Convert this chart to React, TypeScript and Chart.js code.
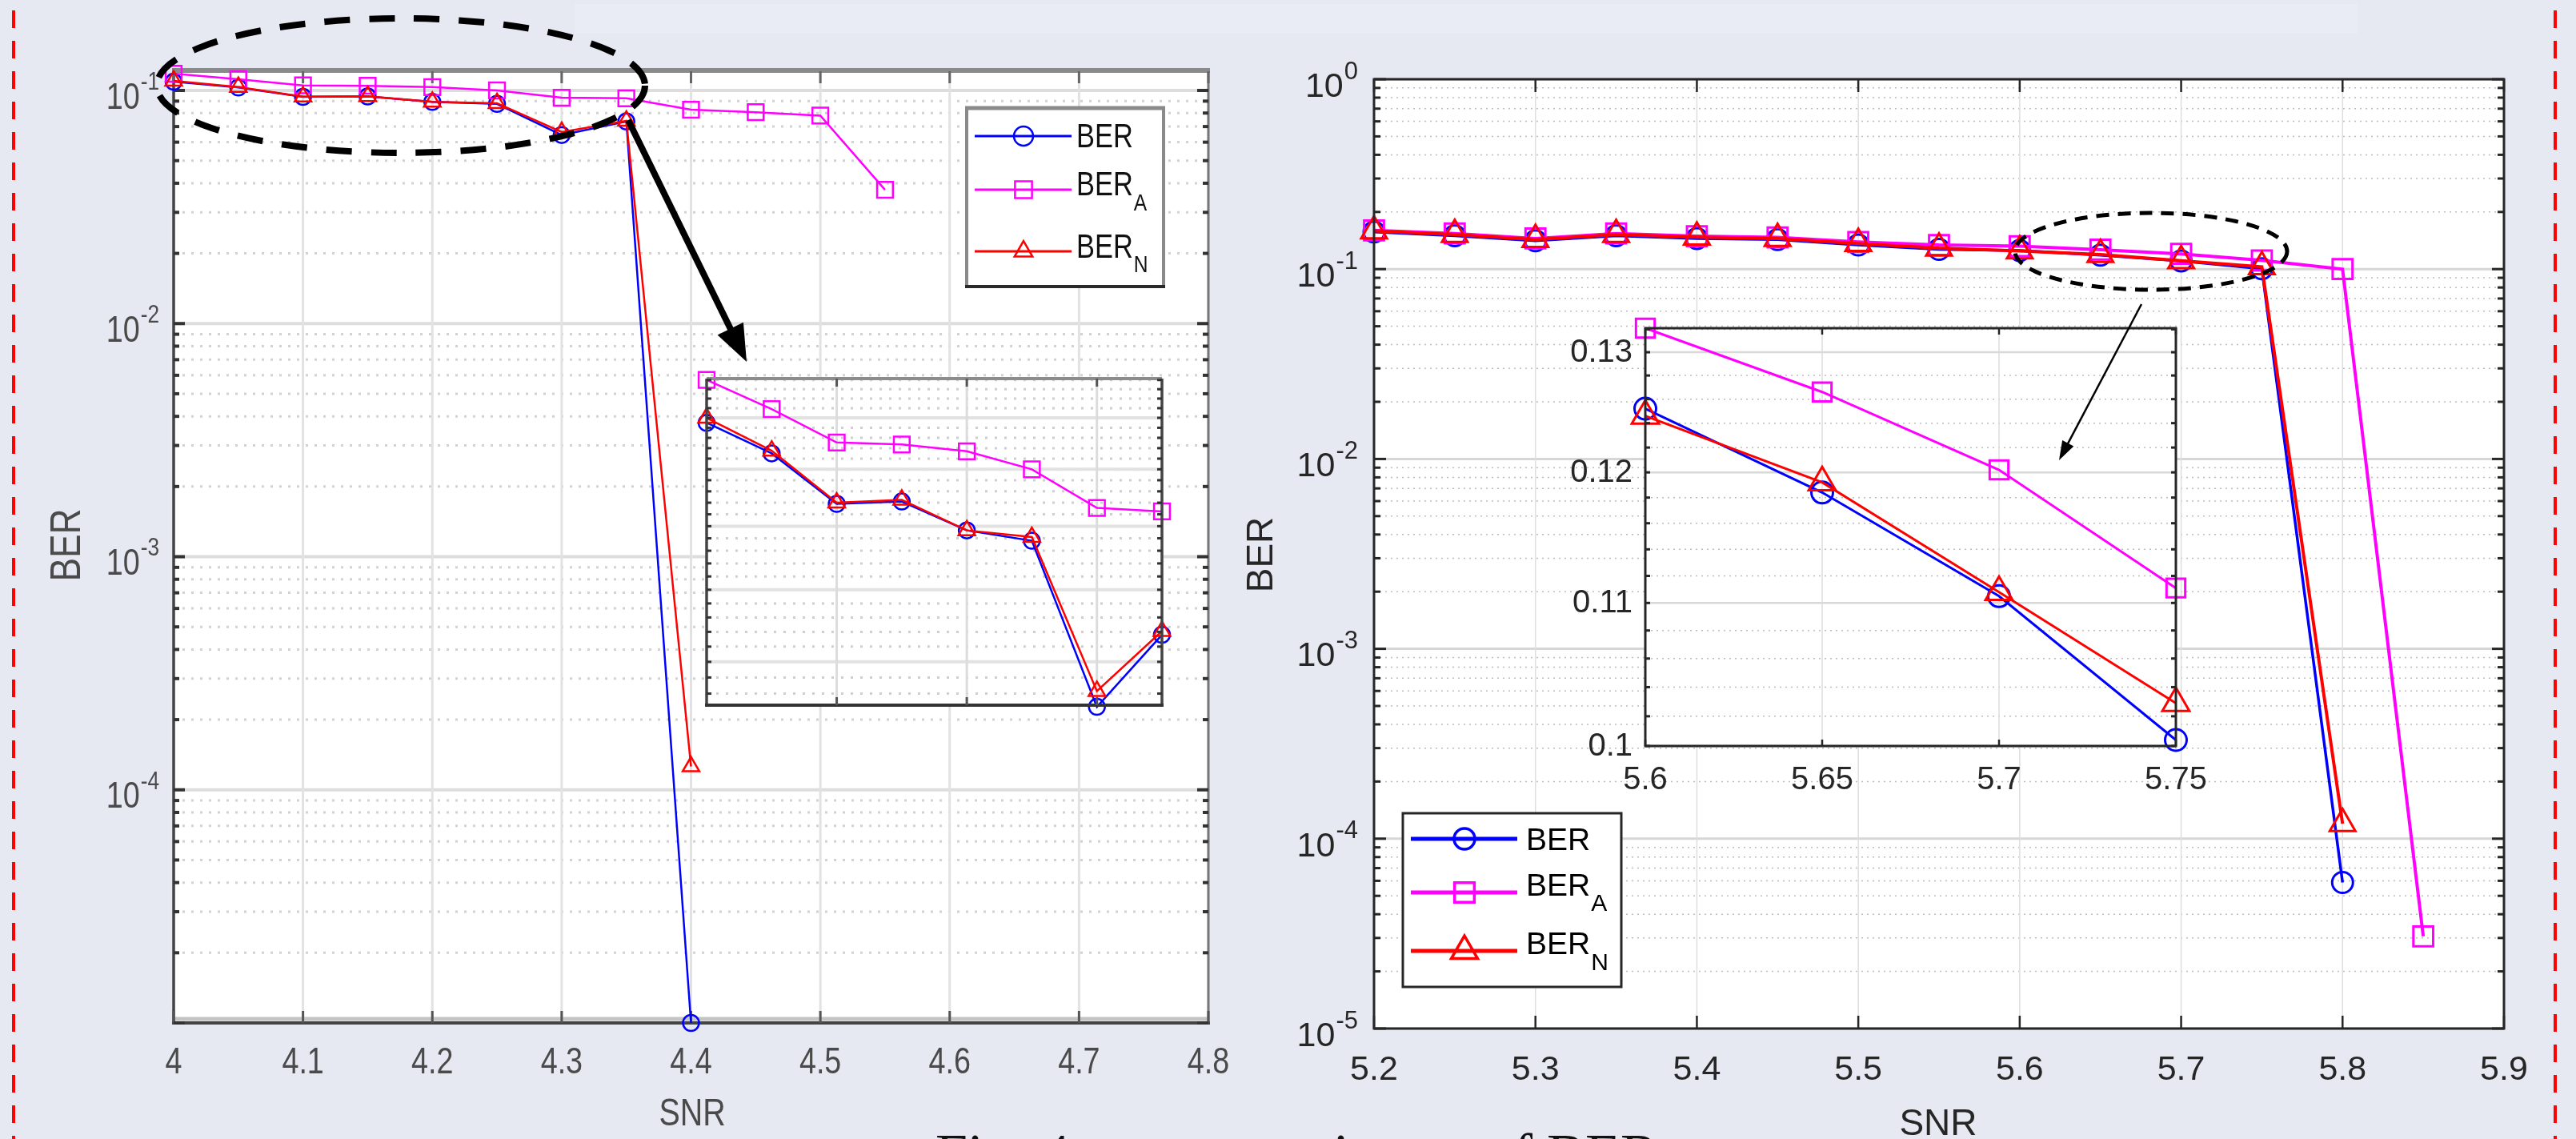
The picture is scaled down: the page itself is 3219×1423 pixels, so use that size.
import React, { useEffect, useRef } from "react";
import { Chart, registerables } from "chart.js";

Chart.register(...registerables);

const PAGE_W = 3219;
const PAGE_H = 1423;
const BG = "#e6e9f2";
const SANS = '"Liberation Sans", Arial, Helvetica, sans-serif';
const SERIF = '"Liberation Serif", "Times New Roman", serif';
const NARROW = 0.82;

const BLUE = "#0000ff";
const MAGENTA = "#ff00ff";
const RED = "#ff0000";

// ---------------- left figure data ----------------
const snrLeft = [4.0, 4.05, 4.1, 4.15, 4.2, 4.25, 4.3, 4.35, 4.4, 4.45, 4.5, 4.55];
const berLeft = [0.109, 0.103, 0.0938, 0.0942, 0.0893, 0.0876, 0.0644, 0.0736, 1.0e-5];
const berALeft = [0.118, 0.1118, 0.1051, 0.1047, 0.1034, 0.1, 0.0931, 0.0925, 0.0827, 0.0807, 0.078, 0.0375];
const berNLeft = [0.11, 0.1035, 0.094, 0.0945, 0.0893, 0.0882, 0.0663, 0.0741, 1.26e-4];

// ---------------- right figure data ----------------
const snrRight = [5.2, 5.25, 5.3, 5.35, 5.4, 5.45, 5.5, 5.55, 5.6, 5.65, 5.7, 5.75, 5.8, 5.85];
const berRight = [0.157, 0.15, 0.141, 0.15, 0.145, 0.143, 0.134, 0.127, 0.1252, 0.1184, 0.1105, 0.1004, 5.88e-5];
const berARight = [0.16, 0.154, 0.145, 0.154, 0.149, 0.147, 0.139, 0.134, 0.1321, 0.1266, 0.1202, 0.1111, 0.1, 3.06e-5];
const berNRight = [0.159, 0.152, 0.143, 0.152, 0.1475, 0.145, 0.1365, 0.129, 0.1246, 0.1192, 0.1108, 0.1029, 1.2e-4];

// ---------------- ticks / labels ----------------
const leftXTicks = [4, 4.1, 4.2, 4.3, 4.4, 4.5, 4.6, 4.7, 4.8];
const leftXLabels = ["4", "4.1", "4.2", "4.3", "4.4", "4.5", "4.6", "4.7", "4.8"];
const leftYExps = [-1, -2, -3, -4, -5];
const leftYLabelExps = [-1, -2, -3, -4];
const leftInsetXTicks = [4.1, 4.2, 4.3];
const leftInsetYMajor = [0.07, 0.08, 0.09, 0.1, 0.11];

const rightXTicks = [5.2, 5.3, 5.4, 5.5, 5.6, 5.7, 5.8, 5.9];
const rightXLabels = ["5.2", "5.3", "5.4", "5.5", "5.6", "5.7", "5.8", "5.9"];
const rightYExps = [0, -1, -2, -3, -4, -5];
const rightInsetXTicks = [5.6, 5.65, 5.7, 5.75];
const rightInsetXLabels = ["5.6", "5.65", "5.7", "5.75"];
const rightInsetYMajor = [0.1, 0.11, 0.12, 0.13];
const rightInsetYLabels = ["0.1", "0.11", "0.12", "0.13"];

const legendNames = ["BER", "BER", "BER"];
const legendSubs = ["", "A", "N"];

const xLabel = "SNR";
const yLabel = "BER";
const captionA = "Fig. 4";
const captionB = "comparisons";
const captionC = "of BER";

// ---------------- helpers ----------------
function decadeMinors(eMin: number, eMax: number, vMax: number) {
  const out: number[] = [];
  for (let e = eMin; e < eMax; e++) {
    for (let k = 2; k <= 9; k++) {
      const v = k * Math.pow(10, e);
      if (v < vMax) out.push(v);
    }
  }
  return out;
}
function stepMinors(min: number, max: number, step: number) {
  const out: number[] = [];
  for (let i = Math.ceil(min / step); i * step <= max + 1e-9; i++) out.push(+(i * step).toFixed(4));
  return out;
}

type Ctx = CanvasRenderingContext2D;

function hLine(ctx: Ctx, x1: number, x2: number, y: number, color: string, w: number, dash: number[] = []) {
  ctx.save();
  ctx.strokeStyle = color;
  ctx.lineWidth = w;
  ctx.setLineDash(dash);
  ctx.beginPath();
  ctx.moveTo(x1, y);
  ctx.lineTo(x2, y);
  ctx.stroke();
  ctx.restore();
}
function vLine(ctx: Ctx, x: number, y1: number, y2: number, color: string, w: number, dash: number[] = []) {
  ctx.save();
  ctx.strokeStyle = color;
  ctx.lineWidth = w;
  ctx.setLineDash(dash);
  ctx.beginPath();
  ctx.moveTo(x, y1);
  ctx.lineTo(x, y2);
  ctx.stroke();
  ctx.restore();
}
function txt(
  ctx: Ctx,
  s: string,
  x: number,
  y: number,
  size: number,
  color: string,
  align: CanvasTextAlign,
  sx = 1,
  rot = 0
) {
  ctx.save();
  ctx.translate(x, y);
  if (rot) ctx.rotate(rot);
  ctx.scale(sx, 1);
  ctx.font = `${size}px ${SANS}`;
  ctx.fillStyle = color;
  ctx.textAlign = align;
  ctx.textBaseline = "middle";
  ctx.fillText(s, 0, 0);
  ctx.restore();
}
function measure(ctx: Ctx, s: string, size: number, sx = 1) {
  ctx.save();
  ctx.font = `${size}px ${SANS}`;
  const w = ctx.measureText(s).width * sx;
  ctx.restore();
  return w;
}
function powLabel(
  ctx: Ctx,
  exp: number,
  xr: number,
  y: number,
  o: { base: number; sup: number; color: string; sx: number; dyB: number; dyS: number }
) {
  const es = String(exp);
  const we = measure(ctx, es, o.sup, o.sx);
  txt(ctx, "10", xr - we - 1, y + o.dyB, o.base, o.color, "right", o.sx);
  txt(ctx, es, xr - we, y + o.dyS, o.sup, o.color, "left", o.sx);
}
function marker(ctx: Ctx, style: string, x: number, y: number, r: number, color: string, lw: number) {
  ctx.save();
  ctx.strokeStyle = color;
  ctx.lineWidth = lw;
  ctx.beginPath();
  if (style === "circle") {
    ctx.arc(x, y, r, 0, Math.PI * 2);
  } else if (style === "rect") {
    const s = r * Math.SQRT1_2;
    ctx.rect(x - s, y - s, 2 * s, 2 * s);
  } else {
    ctx.moveTo(x, y - r);
    ctx.lineTo(x + r * 0.866, y + r * 0.5);
    ctx.lineTo(x - r * 0.866, y + r * 0.5);
    ctx.closePath();
  }
  ctx.stroke();
  ctx.restore();
}

type LegendOpts = {
  box: [number, number, number, number];
  lineX: [number, number];
  markX: number;
  textX: number;
  rows: number[];
  textY: number[];
  subY: number[];
  size: number;
  subSize: number;
  sx: number;
  lw: number;
  pw: number;
  radii: number[];
  color: string;
  border: (ctx: Ctx) => void;
};
const legendColors = [BLUE, MAGENTA, RED];
const legendStyles = ["circle", "rect", "triangle"];

function drawLegend(ctx: Ctx, o: LegendOpts) {
  const [l, t, r, b] = o.box;
  ctx.save();
  ctx.fillStyle = "#ffffff";
  ctx.fillRect(l, t, r - l, b - t);
  ctx.restore();
  o.border(ctx);
  for (let i = 0; i < 3; i++) {
    const y = o.rows[i];
    hLine(ctx, o.lineX[0], o.lineX[1], y, legendColors[i], o.lw);
    marker(ctx, legendStyles[i], o.markX, y, o.radii[i], legendColors[i], o.pw);
    txt(ctx, legendNames[i], o.textX, o.textY[i], o.size, o.color, "left", o.sx);
    if (legendSubs[i]) {
      const w = measure(ctx, legendNames[i], o.size, o.sx);
      txt(ctx, legendSubs[i], o.textX + w + 1, o.subY[i], o.subSize, o.color, "left", o.sx);
    }
  }
}

function ds(
  xs: number[],
  ys: number[],
  color: string,
  style: string,
  radius: number,
  lw: number,
  pw: number,
  order: number
) {
  return {
    data: ys.map((y, i) => ({ x: xs[i], y })),
    borderColor: color,
    backgroundColor: "rgba(0,0,0,0)",
    pointBackgroundColor: "rgba(0,0,0,0)",
    pointBorderColor: color,
    pointStyle: style,
    pointRadius: radius,
    pointBorderWidth: pw,
    borderWidth: lw,
    tension: 0,
    fill: false,
    clip: false,
    order,
  };
}

type Area = { l: number; t: number; r: number; b: number };
type Layer = {
  area: Area;
  x: [number, number];
  y: [number, number];
  datasets: any[];
  before?: (ctx: Ctx, ch: any) => void;
  after?: (ctx: Ctx, ch: any) => void;
};

function ChartLayer({ layer }: { layer: Layer }) {
  const ref = useRef<HTMLCanvasElement>(null);
  useEffect(() => {
    const c = ref.current;
    if (!c) return;
    const a = layer.area;
    const chart = new Chart(c, {
      type: "line",
      data: { datasets: layer.datasets },
      options: {
        responsive: false,
        maintainAspectRatio: false,
        animation: false,
        events: [],
        layout: { padding: { left: a.l, top: a.t, right: PAGE_W - a.r, bottom: PAGE_H - a.b } },
        scales: {
          x: { type: "linear", min: layer.x[0], max: layer.x[1], display: false },
          y: { type: "logarithmic", min: layer.y[0], max: layer.y[1], display: false },
        },
        plugins: { legend: { display: false }, tooltip: { enabled: false } },
      } as any,
      plugins: [
        {
          id: "paper",
          beforeDatasetsDraw: (ch: any) => layer.before && layer.before(ch.ctx, ch),
          afterDatasetsDraw: (ch: any) => layer.after && layer.after(ch.ctx, ch),
        },
      ],
    });
    return () => chart.destroy();
  }, []);
  return (
    <canvas
      ref={ref}
      width={PAGE_W}
      height={PAGE_H}
      style={{ position: "absolute", left: 0, top: 0, width: PAGE_W, height: PAGE_H }}
    />
  );
}

// ---------------- layer definitions ----------------
const leftGray = "#4a4a4a";
const leftMinors = decadeMinors(-5, -1, 0.121);
const leftInsetMinors = stepMinors(0.0646, 0.1183, 0.002);
const rightMinors = decadeMinors(-5, 0, 1);
const rightInsetMinors = stepMinors(0.1, 0.1321, 0.002);

const leftMain: Layer = {
  area: { l: 217, t: 89, r: 1510, b: 1278 },
  x: [4, 4.8],
  y: [1e-5, 0.1209],
  datasets: [
    ds(snrLeft, berLeft, BLUE, "circle", 10, 2.5, 2.5, 3),
    ds(snrLeft, berALeft, MAGENTA, "rect", 14, 2.5, 2.5, 2),
    ds(snrLeft, berNLeft, RED, "triangle", 12, 2.5, 2.5, 1),
  ],
  before: (ctx, ch) => {
    const { left, right, top, bottom } = ch.chartArea;
    const xs = ch.scales.x;
    const ys = ch.scales.y;
    ctx.save();
    ctx.fillStyle = "#ffffff";
    ctx.fillRect(left, top, right - left, bottom - top);
    ctx.restore();
    leftMinors.forEach((v) => hLine(ctx, left, right, ys.getPixelForValue(v), "#d2d2d2", 3, [3, 8]));
    leftYExps.forEach((e) => hLine(ctx, left, right, ys.getPixelForValue(Math.pow(10, e)), "#dddddd", 4));
    leftXTicks.forEach((v) => vLine(ctx, xs.getPixelForValue(v), top, bottom, "#e2e2e2", 3));
    // frame
    hLine(ctx, left, right, bottom - 5, "#c4c4c4", 5);
    hLine(ctx, left - 2, right + 2, top - 1, "#8a8a8a", 6);
    vLine(ctx, right, top, bottom, "#777777", 3);
    vLine(ctx, left, top, bottom, "#444444", 3.5);
    hLine(ctx, left - 2, right + 2, bottom, "#444444", 4);
    // ticks
    leftXTicks.forEach((v) => {
      const x = xs.getPixelForValue(v);
      vLine(ctx, x, bottom - 15, bottom, "#555555", 3);
      vLine(ctx, x, top, top + 15, "#666666", 3);
    });
    leftYExps.forEach((e) => {
      const y = ys.getPixelForValue(Math.pow(10, e));
      hLine(ctx, left, left + 14, y, "#333333", 4);
      hLine(ctx, right - 14, right, y, "#333333", 4);
    });
    leftMinors.forEach((v) => {
      const y = ys.getPixelForValue(v);
      hLine(ctx, left, left + 7, y, "#333333", 4);
      hLine(ctx, right - 7, right, y, "#333333", 4);
    });
  },
  after: (ctx, ch) => {
    const { bottom } = ch.chartArea;
    const xs = ch.scales.x;
    const ys = ch.scales.y;
    leftXTicks.forEach((v, i) => txt(ctx, leftXLabels[i], xs.getPixelForValue(v), bottom + 50, 46, leftGray, "center", NARROW));
    leftYLabelExps.forEach((e) =>
      powLabel(ctx, e, 199, ys.getPixelForValue(Math.pow(10, e)), {
        base: 46,
        sup: 32,
        color: leftGray,
        sx: NARROW,
        dyB: 10,
        dyS: -10,
      })
    );
    txt(ctx, yLabel, 85, 681, 54, leftGray, "center", NARROW, -Math.PI / 2);
    txt(ctx, xLabel, 865, 1393, 48, leftGray, "center", NARROW);
    drawLegend(ctx, {
      box: [1206, 133, 1456, 360],
      lineX: [1218, 1339],
      markX: 1279,
      textX: 1345,
      rows: [170, 237, 314],
      textY: [172, 232, 310],
      subY: [0, 255, 332],
      size: 42,
      subSize: 30,
      sx: NARROW,
      lw: 3,
      pw: 2.5,
      radii: [12, 15, 13],
      color: "#111111",
      border: (c) => {
        hLine(c, 1206, 1456, 135, "#8a8a8a", 5);
        vLine(c, 1208, 133, 360, "#8a8a8a", 4);
        vLine(c, 1454, 133, 360, "#8a8a8a", 4);
        hLine(c, 1206, 1456, 358, "#2a2a2a", 4);
      },
    });
  },
};

const leftInset: Layer = {
  area: { l: 883, t: 473, r: 1452, b: 881 },
  x: [4, 4.35],
  y: [0.0646, 0.1183],
  datasets: [
    ds(snrLeft.slice(0, 8), berLeft.slice(0, 8), BLUE, "circle", 10, 2.5, 2.5, 3),
    ds(snrLeft.slice(0, 8), berALeft.slice(0, 8), MAGENTA, "rect", 14, 2.5, 2.5, 2),
    ds(snrLeft.slice(0, 8), berNLeft.slice(0, 8), RED, "triangle", 12, 2.5, 2.5, 1),
  ],
  before: (ctx, ch) => {
    const { left, right, top, bottom } = ch.chartArea;
    const xs = ch.scales.x;
    const ys = ch.scales.y;
    ctx.save();
    ctx.fillStyle = "#ffffff";
    ctx.fillRect(left, top, right - left, bottom - top);
    ctx.restore();
    leftInsetMinors.forEach((v) => hLine(ctx, left, right, ys.getPixelForValue(v), "#cfcfcf", 3, [3, 9]));
    leftInsetYMajor.forEach((v) => hLine(ctx, left, right, ys.getPixelForValue(v), "#e2e2e2", 4));
    leftInsetXTicks.forEach((v) => vLine(ctx, xs.getPixelForValue(v), top, bottom, "#dcdcdc", 3));
  },
  after: (ctx, ch) => {
    const { left, right, top, bottom } = ch.chartArea;
    const xs = ch.scales.x;
    const ys = ch.scales.y;
    hLine(ctx, left, right, top, "#8c8c8c", 4);
    vLine(ctx, left, top, bottom, "#444444", 3.5);
    vLine(ctx, right, top, bottom, "#444444", 3.5);
    hLine(ctx, left - 2, right + 2, bottom, "#333333", 4);
    leftInsetXTicks.forEach((v) => {
      const x = xs.getPixelForValue(v);
      vLine(ctx, x, bottom - 10, bottom, "#555555", 3);
      vLine(ctx, x, top, top + 10, "#555555", 3);
    });
    leftInsetMinors.forEach((v) => {
      const y = ys.getPixelForValue(v);
      hLine(ctx, left, left + 6, y, "#333333", 3);
      hLine(ctx, right - 6, right, y, "#333333", 3);
    });
  },
};

const rightMain: Layer = {
  area: { l: 1717, t: 99, r: 3129, b: 1285 },
  x: [5.2, 5.9],
  y: [1e-5, 1],
  datasets: [
    ds(snrRight, berRight, BLUE, "circle", 13, 3.5, 3, 3),
    ds(snrRight, berARight, MAGENTA, "rect", 17.5, 4, 3, 2),
    ds(snrRight, berNRight, RED, "triangle", 18.5, 4, 3, 1),
  ],
  before: (ctx, ch) => {
    const { left, right, top, bottom } = ch.chartArea;
    const xs = ch.scales.x;
    const ys = ch.scales.y;
    ctx.save();
    ctx.fillStyle = "#ffffff";
    ctx.fillRect(left, top, right - left, bottom - top);
    ctx.restore();
    rightMinors.forEach((v) => hLine(ctx, left, right, ys.getPixelForValue(v), "#bdbdbd", 1.5, [2, 5]));
    rightYExps.forEach((e) => hLine(ctx, left, right, ys.getPixelForValue(Math.pow(10, e)), "#d6d6d6", 3));
    rightXTicks.forEach((v) => vLine(ctx, xs.getPixelForValue(v), top, bottom, "#dedede", 1.5));
  },
  after: (ctx, ch) => {
    const { left, right, top, bottom } = ch.chartArea;
    const xs = ch.scales.x;
    const ys = ch.scales.y;
    const fc = "#262626";
    ctx.save();
    ctx.strokeStyle = fc;
    ctx.lineWidth = 3;
    ctx.strokeRect(left, top, right - left, bottom - top);
    ctx.restore();
    rightXTicks.forEach((v) => {
      const x = xs.getPixelForValue(v);
      vLine(ctx, x, bottom - 16, bottom, fc, 2.5);
      vLine(ctx, x, top, top + 16, fc, 2.5);
    });
    rightYExps.forEach((e) => {
      const y = ys.getPixelForValue(Math.pow(10, e));
      hLine(ctx, left, left + 15, y, fc, 3);
      hLine(ctx, right - 15, right, y, fc, 3);
    });
    rightMinors.forEach((v) => {
      const y = ys.getPixelForValue(v);
      hLine(ctx, left, left + 8, y, fc, 3);
      hLine(ctx, right - 8, right, y, fc, 3);
    });
    rightXTicks.forEach((v, i) => txt(ctx, rightXLabels[i], xs.getPixelForValue(v), bottom + 52, 43, fc, "center"));
    rightYExps.forEach((e) =>
      powLabel(ctx, e, 1697, ys.getPixelForValue(Math.pow(10, e)), {
        base: 43,
        sup: 31,
        color: fc,
        sx: 1,
        dyB: 10,
        dyS: -9,
      })
    );
    txt(ctx, yLabel, 1577, 693, 46, fc, "center", 1, -Math.PI / 2);
    txt(ctx, xLabel, 2422, 1405, 46, fc, "center");
    drawLegend(ctx, {
      box: [1753, 1016, 2026, 1233],
      lineX: [1763, 1896],
      markX: 1830,
      textX: 1907,
      rows: [1048, 1115, 1188],
      textY: [1051, 1108, 1181],
      subY: [0, 1130, 1204],
      size: 39,
      subSize: 30,
      sx: 1,
      lw: 5,
      pw: 3.5,
      radii: [13, 17.5, 19],
      color: "#000000",
      border: (c) => {
        c.save();
        c.strokeStyle = fc;
        c.lineWidth = 3;
        c.strokeRect(1753, 1016, 273, 217);
        c.restore();
      },
    });
  },
};

const rightInset: Layer = {
  area: { l: 2056, t: 410, r: 2719, b: 932 },
  x: [5.6, 5.75],
  y: [0.1, 0.1321],
  datasets: [
    ds(snrRight.slice(8, 12), berRight.slice(8, 12), BLUE, "circle", 13.5, 3, 3, 3),
    ds(snrRight.slice(8, 12), berARight.slice(8, 12), MAGENTA, "rect", 16.5, 3, 3, 2),
    ds(snrRight.slice(8, 12), berNRight.slice(8, 12), RED, "triangle", 19.5, 3, 3, 1),
  ],
  before: (ctx, ch) => {
    const { left, right, top, bottom } = ch.chartArea;
    const xs = ch.scales.x;
    const ys = ch.scales.y;
    ctx.save();
    ctx.fillStyle = "#ffffff";
    ctx.fillRect(left, top, right - left, bottom - top);
    ctx.restore();
    rightInsetMinors.forEach((v) => hLine(ctx, left, right, ys.getPixelForValue(v), "#bdbdbd", 1.5, [2, 5]));
    rightInsetYMajor.forEach((v) => hLine(ctx, left, right, ys.getPixelForValue(v), "#d8d8d8", 2.5));
    rightInsetXTicks.forEach((v) => vLine(ctx, xs.getPixelForValue(v), top, bottom, "#dcdcdc", 1.5));
  },
  after: (ctx, ch) => {
    const { left, right, top, bottom } = ch.chartArea;
    const xs = ch.scales.x;
    const ys = ch.scales.y;
    const fc = "#262626";
    ctx.save();
    ctx.strokeStyle = fc;
    ctx.lineWidth = 3;
    ctx.strokeRect(left, top, right - left, bottom - top);
    ctx.restore();
    rightInsetXTicks.forEach((v, i) => {
      const x = xs.getPixelForValue(v);
      vLine(ctx, x, bottom - 8, bottom, fc, 2.5);
      vLine(ctx, x, top, top + 8, fc, 2.5);
      txt(ctx, rightInsetXLabels[i], x, bottom + 43, 40, fc, "center");
    });
    rightInsetMinors.forEach((v) => {
      const y = ys.getPixelForValue(v);
      hLine(ctx, left, left + 6, y, fc, 3);
      hLine(ctx, right - 6, right, y, fc, 3);
    });
    rightInsetYMajor.forEach((v, i) => {
      const y = ys.getPixelForValue(v);
      txt(ctx, rightInsetYLabels[i], 2040, y + 1, 40, fc, "right");
    });
  },
};

// ---------------- annotations (dashed ellipses, arrows, red frame lines) ----------------
const ellipseLeft = { cx: 501, cy: 107, rx: 305, ry: 84 };
const ellipseRight = { cx: 2688, cy: 314, rx: 170, ry: 48 };
const arrowLeft = { x1: 785, y1: 150, x2: 933, y2: 452, head: 46, half: 18, w: 8 };
const arrowRight = { x1: 2676, y1: 380, x2: 2573, y2: 575, head: 24, half: 8, w: 2.5 };

function Arrow({ a }: { a: typeof arrowLeft }) {
  const dx = a.x2 - a.x1;
  const dy = a.y2 - a.y1;
  const len = Math.hypot(dx, dy);
  const ux = dx / len;
  const uy = dy / len;
  const bx = a.x2 - ux * a.head;
  const by = a.y2 - uy * a.head;
  const px = -uy * a.half;
  const py = ux * a.half;
  return (
    <g>
      <line x1={a.x1} y1={a.y1} x2={bx + ux * 2} y2={by + uy * 2} stroke="#000" strokeWidth={a.w} />
      <polygon points={`${a.x2},${a.y2} ${bx + px},${by + py} ${bx - px},${by - py}`} fill="#000" />
    </g>
  );
}

export default function App() {
  return (
    <div
      style={{
        position: "absolute",
        left: 0,
        top: 0,
        width: PAGE_W,
        height: PAGE_H,
        overflow: "hidden",
        background: BG,
      }}
    >
      <div style={{ position: "absolute", left: 718, top: 5, width: 2228, height: 37, background: "#e9ecf4" }} />
      <ChartLayer layer={leftMain} />
      <ChartLayer layer={leftInset} />
      <ChartLayer layer={rightMain} />
      <ChartLayer layer={rightInset} />
      <svg
        width={PAGE_W}
        height={PAGE_H}
        style={{ position: "absolute", left: 0, top: 0, pointerEvents: "none" }}
      >
        <line x1={17} y1={0} x2={17} y2={PAGE_H} stroke={RED} strokeWidth={4} strokeDasharray="22 16" strokeDashoffset={-13} />
        <line x1={3193} y1={0} x2={3193} y2={PAGE_H} stroke={RED} strokeWidth={4} strokeDasharray="22 16" strokeDashoffset={-13} />
        <ellipse
          cx={ellipseLeft.cx}
          cy={ellipseLeft.cy}
          rx={ellipseLeft.rx}
          ry={ellipseLeft.ry}
          fill="none"
          stroke="#000"
          strokeWidth={8}
          strokeDasharray="32 24"
        />
        <ellipse
          cx={ellipseRight.cx}
          cy={ellipseRight.cy}
          rx={ellipseRight.rx}
          ry={ellipseRight.ry}
          fill="none"
          stroke="#000"
          strokeWidth={5}
          strokeDasharray="16 11"
        />
        <Arrow a={arrowLeft} />
        <Arrow a={arrowRight} />
      </svg>
      <div
        style={{
          position: "absolute",
          top: 1406,
          left: 0,
          width: PAGE_W,
          height: 80,
          fontFamily: SERIF,
          fontSize: 72,
          lineHeight: "72px",
          color: "#111",
          whiteSpace: "nowrap",
        }}
      >
        <span style={{ position: "absolute", left: 1169, top: 0 }}>{captionA}</span>
        <span style={{ position: "absolute", left: 1450, top: 0 }}>{captionB}</span>
        <span style={{ position: "absolute", left: 1855, top: 0 }}>{captionC}</span>
      </div>
    </div>
  );
}
